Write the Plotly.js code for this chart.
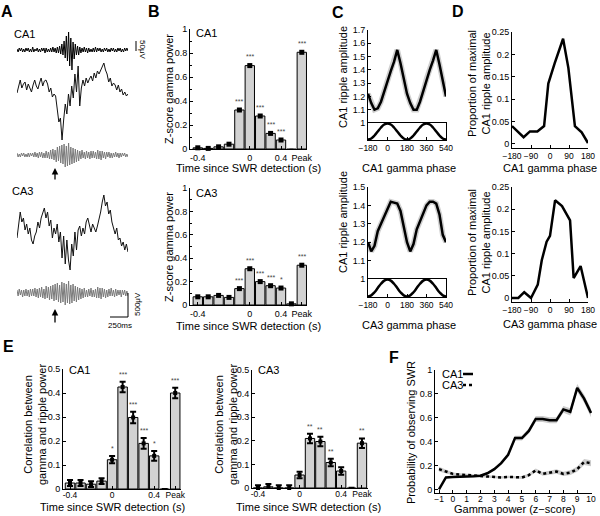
<!DOCTYPE html>
<html><head><meta charset="utf-8">
<script src="https://cdn.plot.ly/plotly-3.0.1.min.js"></script>
<style>html,body{margin:0;padding:0;background:#fff}#chart{width:600px;height:516px}</style>
</head><body><div id="chart"></div>
<script>
// ================= DATA =================
// Panel A example traces (sampled uniformly over ~1.5 s), arbitrary units
const ca1Ripple = [1,-2,2,-1,2,-2,1,-2,2,-1, 2,-2,1,-2,3,-2,1,-1,2,-2, 1,-2,2,-1,2,-3,2,-2,1,-2, 2,-2,3,-2,2,-3,3,-3,4,-4,
  6,-5,9,-8,14,-11,18,-16,12,-20, 8,-9,6,-5,4,-5,3,-3,2,-2, 3,-2,2,-3,2,-2,1,-2,2,-2, 3,-2,2,-1,2,-2,1,-2,2,-1,
  2,-2,1,-2,2,-1,2,-2,1,-2, 2,-1,2,-2,1,-2,2,-1,2,-1];
const ca1Raw = [7,15,20,12,16,18,10,16,12,8, 15,20,14,11,17,22,14,19,20,16, 8,12,3,6,4,-8,-22,-18,-40,-20,
  -4,-14,6,-6,14,2,26,8,34,-6, 12,20,14,22,17,21,24,19,27,22, 29,26,30,33,37,30,26,18,22,14, 17,15,10,15,8,11,5,8,4,6];
const ca1Gamma = [2,-2,1,-2,2,-1,2,-2,1,-2, 2,-2,2,-1,2,-2,3,-2,2,-3, 3,-2,3,-3,2,-3,4,-3,3,-4, 5,-4,6,-5,5,-7,8,-6,9,-8,
  10,-9,11,-12,9,-11,12,-10,8,-9, 7,-8,6,-7,5,-6,4,-4,5,-3, 3,-4,4,-3,3,-4,4,-3,4,-3, 3,-4,5,-4,4,-5,4,-3,3,-4,
  3,-2,3,-3,2,-3,2,-2,3,-2, 2,-3,2,-2,2,-1,2,-2,1,-2];
const ca3Raw = [-8,5,18,8,12,0,6,-4,2,-10, -14,-6,-2,8,2,12,16,22,12,18, 4,10,-8,2,-4,6,-12,-2,-28,-6,
  -34,-10,-30,-40,-14,-26,-2,-20,0,4, -6,2,-4,8,12,4,-2,6,2,-2, 4,10,18,28,35,24,28,16,20,8, 2,-4,2,-10,-8,-16,-12,-20,-14,-22];
const ca3Gamma = [3,-3,4,-2,3,-4,3,-3,4,-3, 3,-4,4,-3,4,-3,5,-4,4,-5, 5,-4,6,-5,4,-6,7,-5,6,-7, 7,-6,8,-8,9,-7,10,-9,8,-10,
  11,-9,10,-12,9,-10,12,-11,8,-10, 9,-8,7,-9,6,-7,5,-6,4,-5, 5,-4,3,-4,4,-3,5,-4,3,-4, 4,-5,6,-5,5,-6,5,-4,4,-5,
  3,-4,4,-3,5,-3,3,-4,4,-3, 3,-2,3,-4,3,-2,3,-3,2,-3];

// Panel B / E bins (slot index: -0.4 ... 0.4, gap, Peak)
const binSlots = [0,1,2,3,4,5,6,7,8,9,10];
const bTickVals = [0,5,8,10];
const bTickText = ['-0.4','0','0.4','Peak'];
const eTickVals = [0,4,8,10];
const eTickText = ['-0.4','0','0.4','Peak'];

const bCA1 = [0.010,0.005,0.018,0.040,0.325,0.695,0.275,0.130,0.075,-0.008,0.806];
const bCA1Err = [0.006,0.005,0.006,0.007,0.009,0.012,0.010,0.008,0.008,0.006,0.012];
const bCA1Stars = ['','','','','***','***','***','***','***','','***'];
const bCA3 = [0.070,0.070,0.082,0.065,0.140,0.310,0.200,0.165,0.145,0.010,0.340];
const bCA3Err = [0.006,0.006,0.006,0.006,0.008,0.010,0.008,0.008,0.008,0.006,0.010];
const bCA3Stars = ['','','','','***','***','***','***','*','','***'];

const eCA1 = [0.025,0.025,0.020,0.033,0.122,0.425,0.298,0.190,0.138,-0.004,0.400];
const eCA1Err = [0.012,0.012,0.012,0.012,0.015,0.022,0.024,0.022,0.020,0.004,0.022];
const eCA1Stars = ['','','','','*','***','***','***','*','','***'];
const eCA3 = [0.000,0.005,0.000,0.000,0.055,0.210,0.197,0.108,0.072,-0.003,0.190];
const eCA3Err = [0.012,0.012,0.012,0.012,0.014,0.020,0.020,0.016,0.016,0.004,0.020];
const eCA3Stars = ['','','','','','**','**','**','','','**'];

// Panel C: ripple amplitude vs gamma phase (two cycles) + reference cosine
const cPhase = [-180,-150,-120,-90,-60,-30,0,30,60,90,120,150,180,210,240,270,300,330,360,390,420,450,480,510,540];
const cCA1 = [1.22,1.15,1.10,1.11,1.16,1.24,1.32,1.39,1.46,1.55,1.45,1.33,1.22,1.15,1.10,1.10,1.16,1.24,1.33,1.40,1.47,1.55,1.44,1.33,1.20];
const cCA3 = [1.20,1.15,1.18,1.26,1.30,1.34,1.38,1.42,1.415,1.41,1.37,1.28,1.20,1.15,1.19,1.27,1.31,1.36,1.40,1.42,1.42,1.41,1.35,1.24,1.20];
const cRef = [-1,-0.87,-0.5,0,0.5,0.87,1,0.87,0.5,0,-0.5,-0.87,-1,-0.87,-0.5,0,0.5,0.87,1,0.87,0.5,0,-0.5,-0.87,-1];
const cTicks = [-180,0,180,360,540];

// Panel D: proportion of maximal ripple amplitude vs gamma phase
const dTopPhase = [-180,-150,-125,-95,-60,-28,-8,22,62,87,118,150,180];
const dTopVal = [0.040,0.026,0.015,0.028,0.028,0.040,0.135,0.180,0.235,0.170,0.040,0.026,0.002];
const dBotPhase = [-180,-150,-122,-90,-58,-39,-16,0,24,57,95,112,145,180];
const dBotVal = [0,0,0.013,0,0.030,0.085,0.127,0.140,0.220,0.207,0.175,0.045,0.072,0];
const dTicks = [-180,-90,0,90,180];

// Panel F: probability of SWR vs gamma power
const fZ = [-1,-0.5,0,0.5,1,1.5,2,2.5,3,3.5,4,4.5,5,5.5,6,6.5,7,7.5,8,8.5,9,9.5,10];
const fCA1 = [0.0,0.10,0.105,0.105,0.105,0.11,0.115,0.135,0.17,0.22,0.29,0.43,0.43,0.49,0.59,0.59,0.58,0.58,0.67,0.65,0.85,0.76,0.64];
const fCA1Sem = [0.005,0.008,0.008,0.008,0.008,0.008,0.009,0.010,0.012,0.014,0.016,0.020,0.020,0.022,0.025,0.025,0.025,0.025,0.028,0.030,0.032,0.035,0.035];
const fCA3 = [0.17,0.15,0.13,0.125,0.12,0.12,0.115,0.11,0.105,0.10,0.105,0.10,0.10,0.12,0.16,0.13,0.14,0.15,0.13,0.14,0.17,0.23,0.22];
const fCA3Sem = [0.020,0.015,0.012,0.010,0.010,0.010,0.010,0.010,0.010,0.010,0.010,0.010,0.012,0.014,0.016,0.016,0.016,0.018,0.018,0.020,0.022,0.025,0.025];

// ================= DRAWING =================
const W = 600, H = 516;
const FONT = 'Liberation Sans, Arial, Helvetica, sans-serif';
const px = (a,b) => [a/W, b/W];
const py = (top,bot) => [1-bot/H, 1-top/H];
const xid = n => n===1 ? 'x' : 'x'+n;
const yid = n => n===1 ? 'y' : 'y'+n;

const layout = {width:W, height:H, margin:{l:0,r:0,t:0,b:0}, paper_bgcolor:'#fff', plot_bgcolor:'rgba(0,0,0,0)',
  showlegend:false, font:{family:FONT,size:9,color:'#000'}, annotations:[], shapes:[]};

function baseAx(){ return {showgrid:false, zeroline:false, showline:true, linecolor:'#000', linewidth:1, ticks:'inside',
  ticklen:3, tickwidth:1, tickcolor:'#000', tickangle:0, tickfont:{family:FONT,size:9,color:'#000'}, fixedrange:true, automargin:false}; }
function setAxes(n, xd, yd, xo, yo){
  const s = n===1 ? '' : n;
  layout['xaxis'+s] = Object.assign(baseAx(), {domain:xd, anchor:yid(n)}, xo);
  layout['yaxis'+s] = Object.assign(baseAx(), {domain:yd, anchor:xid(n)}, yo);
}
const traces = [];
const idx = a => a.map((_,i)=>i);

// ---- Panel A ----
const aX = px(17,128);
setAxes(1, aX, py(28,72), {visible:false, range:[0,ca1Ripple.length-1]}, {visible:false, range:[-22,22]});
setAxes(2, aX, py(60,142), {visible:false, range:[0,ca1Raw.length-1]}, {visible:false, range:[-42,40]});
setAxes(3, aX, py(140,170), {visible:false, range:[0,ca1Gamma.length-1]}, {visible:false, range:[-15,15]});
setAxes(4, aX, py(190,272), {visible:false, range:[0,ca3Raw.length-1]}, {visible:false, range:[-42,40]});
setAxes(5, aX, py(276,310), {visible:false, range:[0,ca3Gamma.length-1]}, {visible:false, range:[-17,17]});
[[ca1Ripple,1,'#000',1],[ca1Raw,2,'#111',1],[ca1Gamma,3,'#7a7a7a',1],[ca3Raw,4,'#111',1],[ca3Gamma,5,'#7a7a7a',1]].forEach(([d,n,c,w])=>{
  traces.push({type:'scatter',mode:'lines',x:idx(d),y:d,xaxis:xid(n),yaxis:yid(n),line:{color:c,width:w},hoverinfo:'skip'});
});

// ---- Panel B ----
const bXo = {range:[-0.75,10.5], tickvals:bTickVals, ticktext:bTickText};
const bYo = {range:[0,1], dtick:0.2, tick0:0, minor:{dtick:0.1, ticks:'inside', ticklen:2, tickcolor:'#000'}};
setAxes(6, px(190,307), py(29,149), bXo, bYo);
setAxes(7, px(190,307), py(188,305), bXo, bYo);

function barSet(n, vals, errs, stars, msize, ethick, ewidth){
  traces.push({type:'bar', x:binSlots, y:vals, xaxis:xid(n), yaxis:yid(n), width:0.9,
    marker:{color:'#d2d2d2', line:{color:'#000', width:1}}, hoverinfo:'skip'});
  traces.push({type:'scatter', mode:'markers', x:binSlots, y:vals, xaxis:xid(n), yaxis:yid(n), cliponaxis:false,
    marker:{symbol:'square', size:msize, color:'#000'},
    error_y:{type:'data', array:errs, visible:true, color:'#000', thickness:ethick, width:ewidth}, hoverinfo:'skip'});
  stars.forEach((s,i)=>{ if(s) layout.annotations.push({xref:xid(n), yref:yid(n), x:binSlots[i], y:vals[i]+errs[i],
    text:s, showarrow:false, yanchor:'bottom', yshift:2, font:{family:FONT,size:7,color:'#444'}}); });
}
barSet(6, bCA1, bCA1Err, bCA1Stars, 5, 1, 2);
barSet(7, bCA3, bCA3Err, bCA3Stars, 5, 1, 2);

// ---- Panel C ----
const cX = px(368,446);
const cTf = {family:FONT,size:8.5,color:'#000'};
setAxes(8, cX, py(30,123), {visible:false, range:[-180,540]}, {range:[1,1.7], dtick:0.1, tick0:1});
setAxes(9, cX, py(123,140), {range:[-180,540], tickvals:cTicks, mirror:true, tickfont:cTf}, {range:[-1.06,1.06], showticklabels:false, ticks:'', mirror:true});
setAxes(10, cX, py(187,279), {visible:false, range:[-180,540]}, {range:[1,1.5], dtick:0.1, tick0:1});
setAxes(11, cX, py(279,297), {range:[-180,540], tickvals:cTicks, mirror:true, tickfont:cTf}, {range:[-1.06,1.06], showticklabels:false, ticks:'', mirror:true});
[[cCA1,8],[cCA3,10]].forEach(([d,n])=>{
  traces.push({type:'scatter',mode:'lines',x:cPhase,y:d,xaxis:xid(n),yaxis:yid(n),line:{color:'#cfcfcf',width:5.5},hoverinfo:'skip'});
  traces.push({type:'scatter',mode:'lines',x:cPhase,y:d,xaxis:xid(n),yaxis:yid(n),line:{color:'#000',width:2.5},hoverinfo:'skip'});
});
[9,11].forEach(n=>traces.push({type:'scatter',mode:'lines',x:cPhase,y:cRef,xaxis:xid(n),yaxis:yid(n),line:{color:'#000',width:2.5,shape:'spline'},hoverinfo:'skip'}));

// ---- Panel D ----
const dXo = {range:[-180,180], tickvals:dTicks, tickfont:{family:FONT,size:8.5,color:'#000'}};
const dYo = {range:[-0.009,0.25], tickvals:[0,0.05,0.1,0.15,0.2,0.25], ticktext:['0','0.05','0.1','0.15','0.2','0.25']};
setAxes(12, px(512,588), py(32,148), dXo, dYo);
setAxes(13, px(512,588), py(187,302), dXo, dYo);
traces.push({type:'scatter',mode:'lines',x:dTopPhase,y:dTopVal,xaxis:'x12',yaxis:'y12',line:{color:'#000',width:2.5},cliponaxis:false,hoverinfo:'skip'});
traces.push({type:'scatter',mode:'lines',x:dBotPhase,y:dBotVal,xaxis:'x13',yaxis:'y13',line:{color:'#000',width:2.5},cliponaxis:false,hoverinfo:'skip'});

// ---- Panel E ----
const eXf = {family:FONT,size:8.5,color:'#000'};
setAxes(14, px(63,181), py(369,489), {range:[-0.667,10.55], tickvals:eTickVals, ticktext:eTickText, tickfont:eXf, ticklabelstandoff:-2}, {range:[0,0.5], dtick:0.1, tick0:0});
setAxes(15, px(252,368), py(370,488), {range:[-0.577,10.58], tickvals:eTickVals, ticktext:eTickText, tickfont:eXf, ticklabelstandoff:-2}, {range:[0,0.5], dtick:0.1, tick0:0});
barSet(14, eCA1, eCA1Err, eCA1Stars, 4, 2, 3);
barSet(15, eCA3, eCA3Err, eCA3Stars, 4, 2, 3);

// ---- Panel F ----
setAxes(16, px(435,592), py(370,493), {range:[-1.29,10.07], dtick:1, tick0:-1, tickfont:eXf, ticklabelstandoff:-2}, {range:[-0.03,1], dtick:0.2, tick0:0});
function band(vals, sem){
  const up = vals.map((v,i)=>v+sem[i]), lo = vals.map((v,i)=>v-sem[i]);
  return {x:fZ.concat(fZ.slice().reverse()), y:up.concat(lo.reverse())};
}
[[fCA1,fCA1Sem],[fCA3,fCA3Sem]].forEach(([v,s])=>{
  const b = band(v,s);
  traces.push({type:'scatter',mode:'lines',x:b.x,y:b.y,fill:'toself',fillcolor:'#cccccc',line:{width:0},xaxis:'x16',yaxis:'y16',hoverinfo:'skip'});
});
traces.push({type:'scatter',mode:'lines',x:fZ,y:fCA1,xaxis:'x16',yaxis:'y16',line:{color:'#000',width:2.5},hoverinfo:'skip'});
traces.push({type:'scatter',mode:'lines',x:fZ,y:fCA3,xaxis:'x16',yaxis:'y16',line:{color:'#000',width:2.5,dash:'dot'},hoverinfo:'skip'});

// ---- Text annotations ----
function T(x,y,text,o){ return Object.assign({xref:'paper',yref:'paper',x:x/W,y:1-y/H,text:text,showarrow:false,
  xanchor:'center',yanchor:'middle',font:{family:FONT,size:11,color:'#000'}},o||{}); }
function L(x0,y0,x1,y1,o){ return Object.assign({type:'line',xref:'paper',yref:'paper',x0:x0/W,y0:1-y0/H,x1:x1/W,y1:1-y1/H,
  line:{color:'#000',width:1}},o||{}); }
const bold = {font:{family:FONT,size:16,color:'#000',weight:'bold'}};
const ann = layout.annotations;
ann.push(T(7,11,'<b>A</b>',bold), T(154,11,'<b>B</b>',bold), T(338,12,'<b>C</b>',bold), T(458,11,'<b>D</b>',bold),
  T(8,346,'<b>E</b>',bold), T(394,357,'<b>F</b>',bold));
// A
ann.push(T(12,34,'CA1',{xanchor:'left'}), T(10,191,'CA3',{xanchor:'left'}));
ann.push(T(142,50,'50μV',{textangle:90,font:{family:FONT,size:8,color:'#000'}}));
ann.push(T(137,304,'500μV',{textangle:-90,font:{family:FONT,size:8,color:'#000'}}));
ann.push(T(120,325,'250ms',{font:{family:FONT,size:8,color:'#000'}}));
ann.push({xref:'paper',yref:'paper',x:55/W,y:1-168/H,ax:0,ay:13,text:'',showarrow:true,arrowhead:2,arrowsize:1,arrowwidth:1.3,arrowcolor:'#000'});
ann.push({xref:'paper',yref:'paper',x:55/W,y:1-309/H,ax:0,ay:15,text:'',showarrow:true,arrowhead:2,arrowsize:1,arrowwidth:1.3,arrowcolor:'#000'});
layout.shapes.push(L(136,41,136,51), L(110,317,128,317), L(128,293,128,317));
// B
ann.push(T(194,33,'CA1',{xanchor:'left'}), T(194,193,'CA3',{xanchor:'left'}));
ann.push(T(169,89,'Z-score gamma power',{textangle:-90}), T(169,247,'Z-score gamma power',{textangle:-90}));
ann.push(T(248,168,'Time since SWR detection (s)'), T(248,326,'Time since SWR detection (s)'));
// C
ann.push(T(343,77,'CA1 ripple amplitude',{textangle:-90}), T(343,222,'CA1 ripple amplitude',{textangle:-90}));
ann.push(T(409,168,'CA1 gamma phase'), T(409,325,'CA3 gamma phase'));
// D
ann.push(T(479,84,'Proportion of maximal<br>CA1 ripple amplitude',{textangle:-90}), T(479,243,'Proportion of maximal<br>CA1 ripple amplitude',{textangle:-90}));
ann.push(T(550,168,'CA1 gamma phase'), T(550,324,'CA3 gamma phase'));
// E
ann.push(T(67,370,'CA1',{xanchor:'left'}), T(256,370,'CA3',{xanchor:'left'}));
ann.push(T(35,425,'Correlation between<br>gamma and ripple power',{textangle:-90}), T(226,425,'Correlation between<br>gamma and ripple power',{textangle:-90}));
ann.push(T(112,507,'Time since SWR detection (s)'), T(308,507,'Time since SWR detection (s)'));
// F
ann.push(T(411,433,'Probability of observing SWR',{textangle:-90}));
ann.push(T(514,509,'Gamma power (z\u2212score)'));
ann.push(T(440,374,'CA1',{xanchor:'left'}), T(440,385,'CA3',{xanchor:'left'}));
layout.shapes.push(L(463,374,473,374,{line:{color:'#000',width:2.5}}), L(463,385,473,385,{line:{color:'#000',width:2.5,dash:'dot'}}));

Plotly.newPlot('chart', traces, layout, {displayModeBar:false, staticPlot:true});
</script>
</body></html>
